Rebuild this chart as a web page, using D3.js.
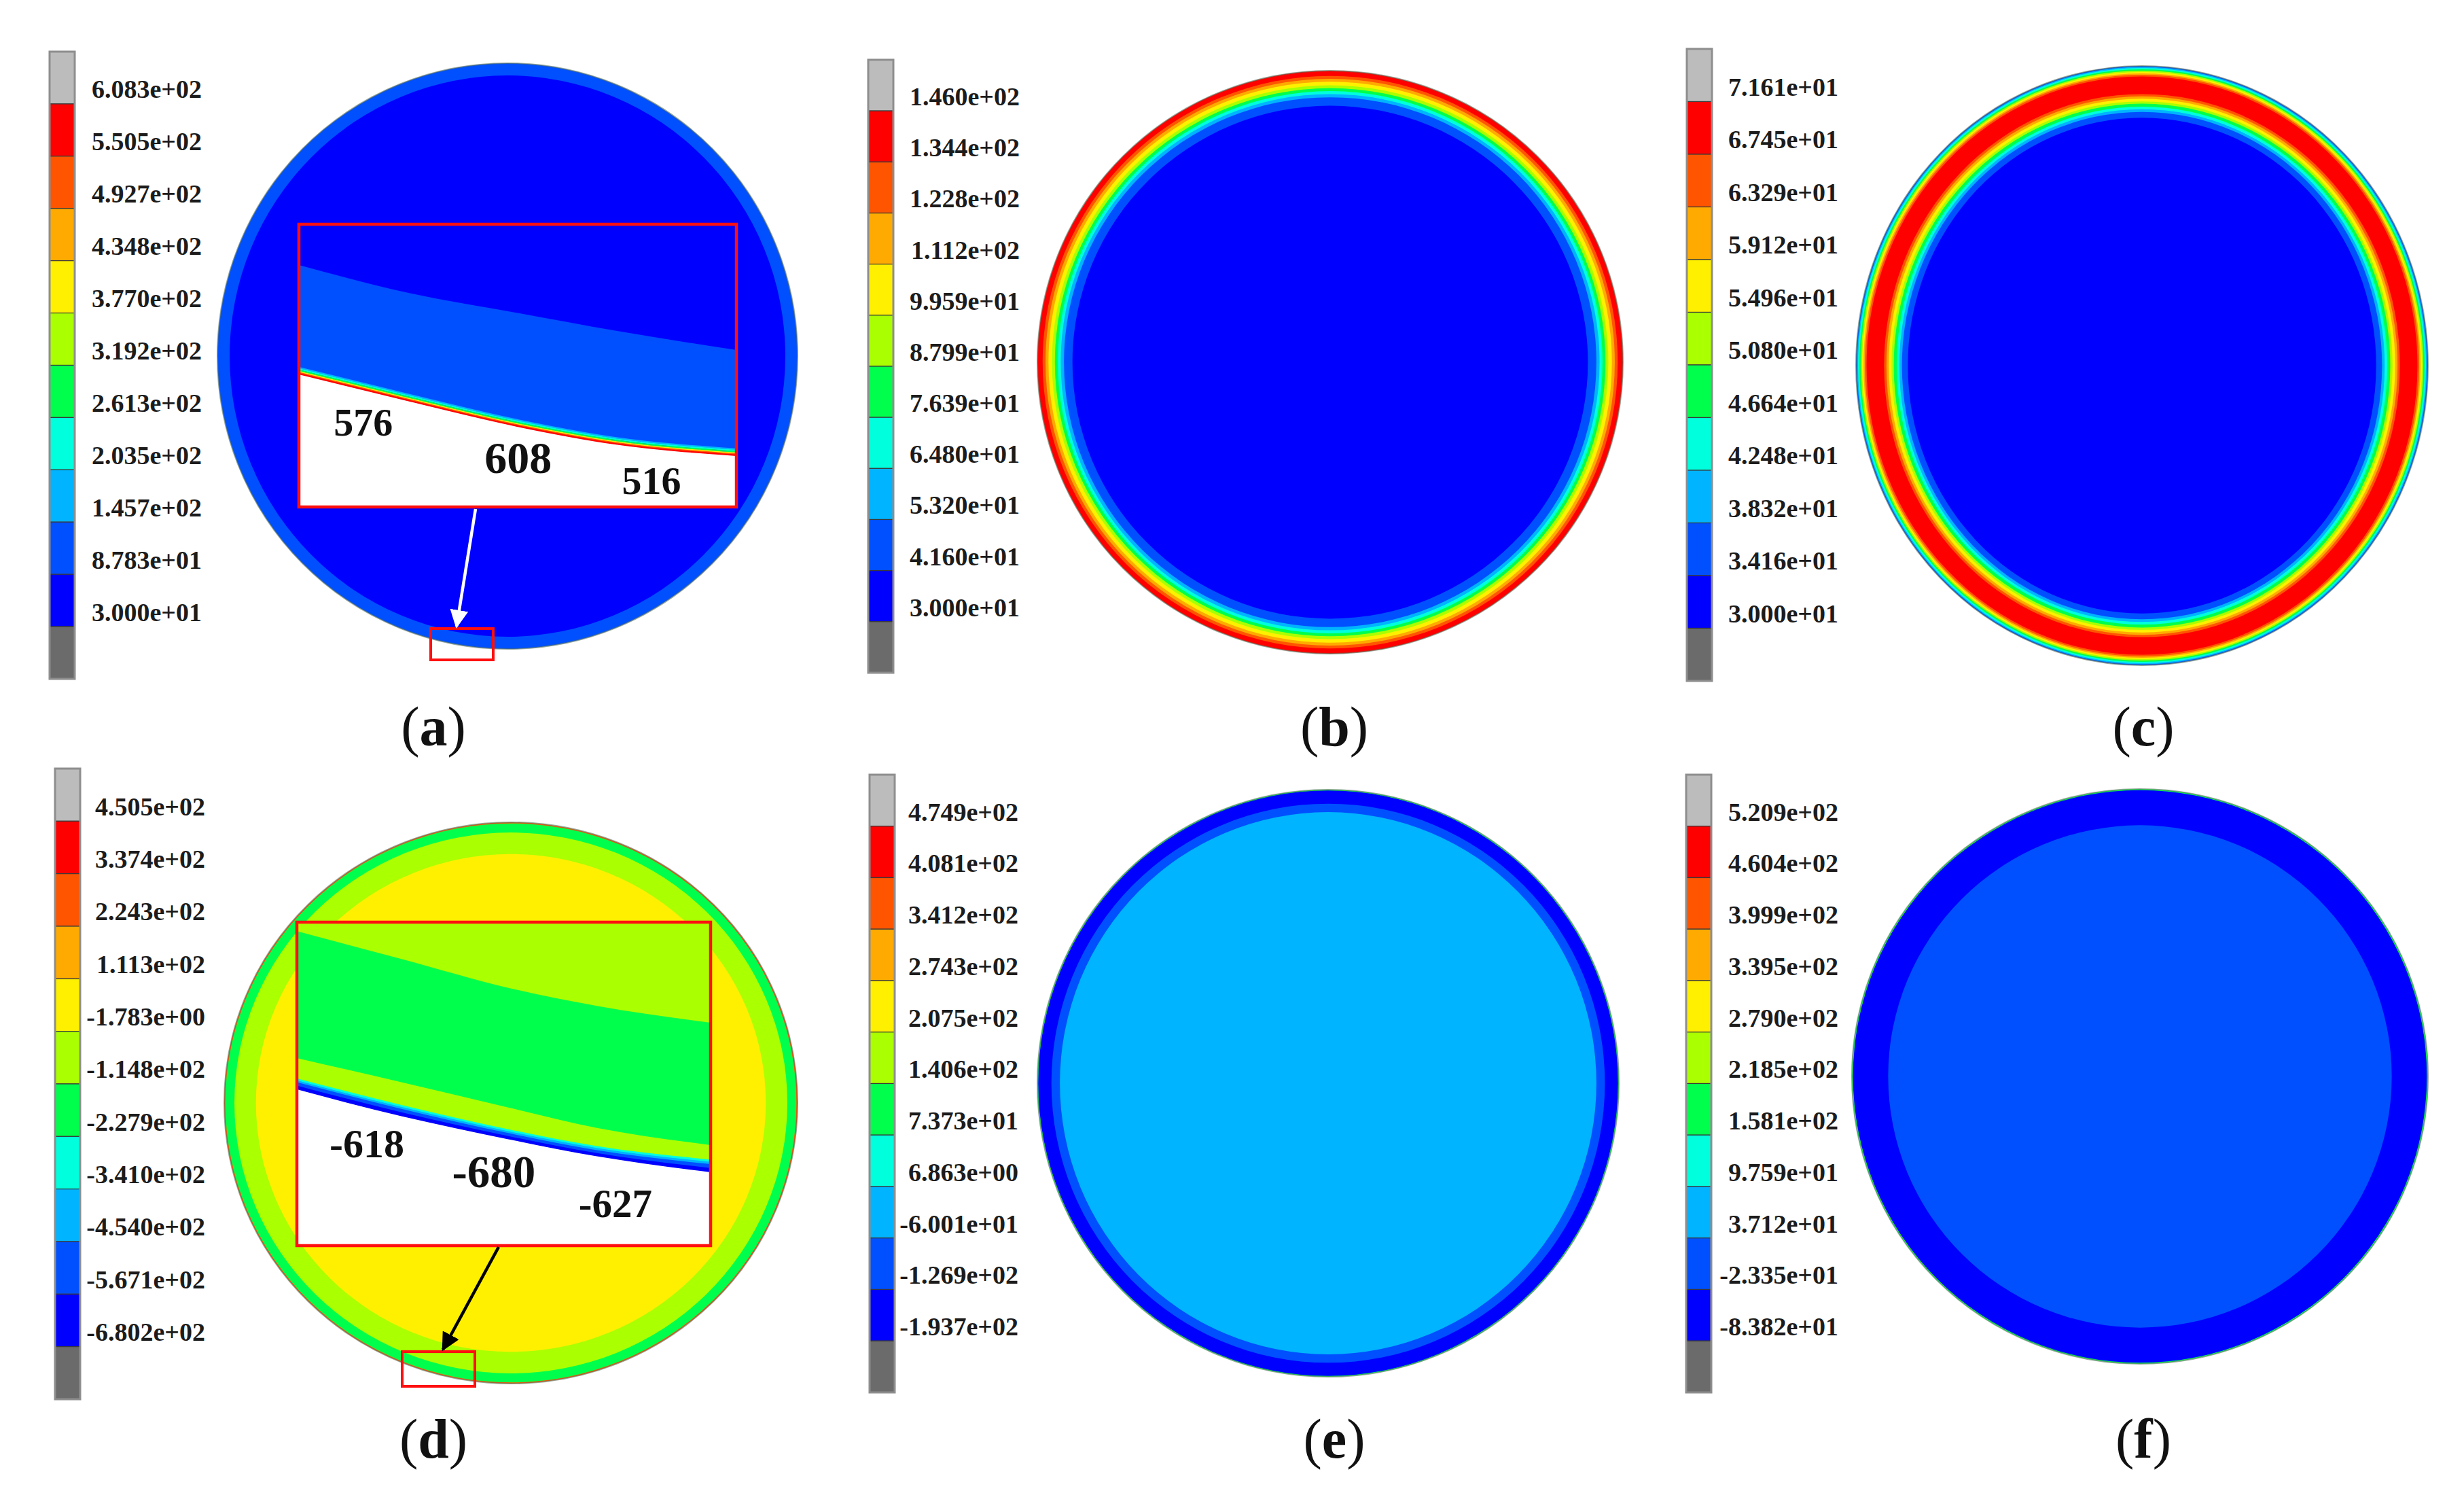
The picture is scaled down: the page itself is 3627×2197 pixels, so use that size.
<!DOCTYPE html>
<html>
<head>
<meta charset="utf-8">
<script src="https://cdn.jsdelivr.net/npm/d3@7"></script>
<style>
  body { margin: 0; background: #fff; }
  text { font-family: "Liberation Serif", "Times New Roman", serif; }
</style>
</head>
<body>
<svg id="fig" width="3627" height="2197"></svg>
<script>
// legend colours, top (max) to bottom (min)
const legendColors = ["#bcbcbc", "#ff0000", "#ff5500", "#ffaa00", "#fff000", "#aaff00",
  "#00ff4c", "#00ffdd", "#00b4ff", "#0050ff", "#0000ff", "#6b6b6b"];

const labelsA = ["6.083e+02", "5.505e+02", "4.927e+02", "4.348e+02", "3.770e+02", "3.192e+02",
  "2.613e+02", "2.035e+02", "1.457e+02", "8.783e+01", "3.000e+01"];
const labelsB = ["1.460e+02", "1.344e+02", "1.228e+02", "1.112e+02", "9.959e+01", "8.799e+01",
  "7.639e+01", "6.480e+01", "5.320e+01", "4.160e+01", "3.000e+01"];
const labelsC = ["7.161e+01", "6.745e+01", "6.329e+01", "5.912e+01", "5.496e+01", "5.080e+01",
  "4.664e+01", "4.248e+01", "3.832e+01", "3.416e+01", "3.000e+01"];
const labelsD = ["4.505e+02", "3.374e+02", "2.243e+02", "1.113e+02", "-1.783e+00", "-1.148e+02",
  "-2.279e+02", "-3.410e+02", "-4.540e+02", "-5.671e+02", "-6.802e+02"];
const labelsE = ["4.749e+02", "4.081e+02", "3.412e+02", "2.743e+02", "2.075e+02", "1.406e+02",
  "7.373e+01", "6.863e+00", "-6.001e+01", "-1.269e+02", "-1.937e+02"];
const labelsF = ["5.209e+02", "4.604e+02", "3.999e+02", "3.395e+02", "2.790e+02", "2.185e+02",
  "1.581e+02", "9.759e+01", "3.712e+01", "-2.335e+01", "-8.382e+01"];

// contour bands: [legend colour index, depth from surface where band starts (fraction of radius)]
const ringsA = [[9, 0], [10, 0.042]];
const ringsB = [[1, 0], [2, 0.018], [3, 0.028], [4, 0.038], [5, 0.05], [6, 0.06],
  [7, 0.07], [8, 0.08], [9, 0.091], [10, 0.12]];
const ringsC = [[9, 0], [8, 0.0035], [7, 0.007], [6, 0.0116], [5, 0.0163], [4, 0.0209],
  [3, 0.0256], [2, 0.0302], [1, 0.036], [2, 0.096], [3, 0.104], [4, 0.112], [5, 0.121],
  [6, 0.129], [7, 0.139], [8, 0.148], [9, 0.157], [10, 0.177]];
const ringsD = [[2, 0], [6, 0.004], [5, 0.036], [4, 0.112]];
const ringsE = [[6, 0], [10, 0.003], [9, 0.048], [8, 0.077]];
const ringsF = [[6, 0], [10, 0.004], [9, 0.126]];

// zoomed insets: boundary curves in inset coordinates (0..1)
const insetTopA = [[0, 0.144], [0.254, 0.244], [0.497, 0.313], [0.725, 0.377], [1, 0.445]];
const insetEdgeA = [[0, 0.529], [0.254, 0.625], [0.497, 0.713], [0.725, 0.777], [1, 0.817]];
const insetValuesA = [["576", 0.147, 0.70, 58], ["608", 0.501, 0.826, 66], ["516", 0.806, 0.908, 58]];

const insetGreenD = [[0, 0.028], [0.256, 0.115], [0.511, 0.203], [0.725, 0.259], [1, 0.311]];
const insetLowYgD = [[0, 0.42], [0.256, 0.496], [0.511, 0.573], [0.725, 0.636], [1, 0.689]];
const insetCyanD = [[0, 0.483], [0.256, 0.566], [0.511, 0.64], [0.725, 0.692], [1, 0.734]];
const insetLightD = [[0, 0.489], [0.256, 0.572], [0.511, 0.646], [0.725, 0.698], [1, 0.741]];
const insetBlueD = [[0, 0.495], [0.256, 0.578], [0.511, 0.652], [0.725, 0.705], [1, 0.748]];
const insetDarkD = [[0, 0.505], [0.256, 0.589], [0.511, 0.661], [0.725, 0.714], [1, 0.76]];
const insetEdgeD = [[0, 0.517], [0.256, 0.601], [0.511, 0.671], [0.725, 0.724], [1, 0.773]];
const insetValuesD = [["-618", 0.169, 0.684, 60], ["-680", 0.476, 0.771, 67], ["-627", 0.77, 0.87, 59]];

const panels = [
  { id: "a", labels: labelsA, rings: ringsA, bar: [73, 76, 999], labelEnd: 297,
    shape: [747, 524, 427, 431], caption: [638, 1075] },
  { id: "b", labels: labelsB, rings: ringsB, bar: [1278, 88, 990], labelEnd: 1501,
    shape: [1958, 533, 431, 429], caption: [1964, 1075] },
  { id: "c", labels: labelsC, rings: ringsC, bar: [2483, 72, 1002], labelEnd: 2706,
    shape: [3153, 538, 421, 441], caption: [3155, 1075] },
  { id: "d", labels: labelsD, rings: ringsD, bar: [81, 1131, 2059], labelEnd: 302,
    shape: [752, 1623, 422, 413], caption: [638, 2123] },
  { id: "e", labels: labelsE, rings: ringsE, bar: [1280, 1140, 2049], labelEnd: 1499,
    shape: [1955, 1594, 428, 432], caption: [1964, 2123] },
  { id: "f", labels: labelsF, rings: ringsF, bar: [2482, 1140, 2049], labelEnd: 2706,
    shape: [3150, 1584, 424, 423], caption: [3155, 2123] },
];

const svg = d3.select("#fig");
const defs = svg.append("defs");

panels.forEach((p) => {
  const g = svg.append("g").attr("class", "panel panel-" + p.id);

  // contour disc
  const [cx, cy, rx, ry] = p.shape;
  const depth = d3.scaleLinear().domain([0, 1]).range([0, (rx + ry) / 2]);
  g.selectAll(".band")
    .data(p.rings)
    .join("ellipse")
    .attr("class", "band")
    .attr("cx", cx)
    .attr("cy", cy)
    .attr("rx", (d) => rx - depth(d[1]))
    .attr("ry", (d) => ry - depth(d[1]))
    .attr("fill", (d) => legendColors[d[0]]);
  g.append("ellipse")
    .attr("cx", cx).attr("cy", cy).attr("rx", rx).attr("ry", ry)
    .attr("fill", "none")
    .attr("stroke", "#56705a")
    .attr("stroke-opacity", 0.6)
    .attr("stroke-width", 2);

  // colour legend
  const [bx, top, bottom] = p.bar;
  const bw = 37;
  const y = d3.scaleLinear().domain([0, legendColors.length]).range([top, bottom]);
  g.selectAll(".seg")
    .data(legendColors)
    .join("rect")
    .attr("class", "seg")
    .attr("x", bx)
    .attr("y", (d, i) => y(i))
    .attr("width", bw)
    .attr("height", (d, i) => y(i + 1) - y(i))
    .attr("fill", (d) => d)
    .attr("stroke", "#3a3a3a")
    .attr("stroke-width", 1.2);
  g.append("rect")
    .attr("x", bx).attr("y", top).attr("width", bw).attr("height", bottom - top)
    .attr("fill", "none").attr("stroke", "#8e8e8e").attr("stroke-width", 3);

  g.selectAll(".lbl")
    .data(p.labels)
    .join("text")
    .attr("class", "lbl")
    .attr("x", p.labelEnd)
    .attr("y", (d, i) => y(i + 0.72) + 13)
    .attr("text-anchor", "end")
    .attr("font-size", 38)
    .attr("font-weight", "bold")
    .attr("fill", "#1c1c1c")
    .text((d) => d);

  // caption (a)...(f)
  const cap = g.append("text")
    .attr("x", p.caption[0])
    .attr("y", p.caption[1] + 22)
    .attr("text-anchor", "middle")
    .attr("font-size", 82)
    .attr("fill", "#111");
  cap.append("tspan").text("(");
  cap.append("tspan").attr("font-weight", "bold").text(p.id);
  cap.append("tspan").text(")");
});

// arrow markers
["white", "black"].forEach((c) => {
  defs.append("marker")
    .attr("id", "head-" + c)
    .attr("viewBox", "0 0 10 10")
    .attr("refX", 9).attr("refY", 5)
    .attr("markerWidth", 6).attr("markerHeight", 6)
    .attr("markerUnits", "strokeWidth")
    .attr("orient", "auto")
    .append("path")
    .attr("d", "M0,0 L10,5 L0,10 z")
    .attr("fill", c);
});

function drawInset(box, layers, strokes, values, callout) {
  const [x0, y0, x1, y1] = box;
  const sx = d3.scaleLinear().domain([0, 1]).range([x0, x1]);
  const sy = d3.scaleLinear().domain([0, 1]).range([y0, y1]);
  const id = "clip-" + x0 + "-" + y0;
  defs.append("clipPath").attr("id", id)
    .append("rect").attr("x", x0).attr("y", y0).attr("width", x1 - x0).attr("height", y1 - y0);
  const g = svg.append("g").attr("clip-path", "url(#" + id + ")");
  const area = d3.area()
    .x((d) => sx(d[0]))
    .y0((d) => sy(d[1]))
    .y1(y1 + 10)
    .curve(d3.curveMonotoneX);
  const line = d3.line()
    .x((d) => sx(d[0]))
    .y((d) => sy(d[1]))
    .curve(d3.curveMonotoneX);

  layers.forEach(([fill, curve]) => {
    if (!curve) {
      g.append("rect").attr("x", x0).attr("y", y0)
        .attr("width", x1 - x0).attr("height", y1 - y0).attr("fill", fill);
    } else {
      g.append("path").attr("d", area(curve)).attr("fill", fill);
    }
  });
  strokes.forEach(([col, curve, dy]) => {
    g.append("path")
      .attr("d", line(curve))
      .attr("transform", "translate(0," + dy + ")")
      .attr("fill", "none")
      .attr("stroke", col)
      .attr("stroke-width", 2.2);
  });
  g.selectAll(".val")
    .data(values)
    .join("text")
    .attr("x", (d) => sx(d[1]))
    .attr("y", (d) => sy(d[2]) + d[3] * 0.34)
    .attr("text-anchor", "middle")
    .attr("font-size", (d) => d[3])
    .attr("font-weight", "bold")
    .attr("fill", "#111")
    .text((d) => d[0]);

  svg.append("rect")
    .attr("x", x0).attr("y", y0).attr("width", x1 - x0).attr("height", y1 - y0)
    .attr("fill", "none").attr("stroke", "#ff1010").attr("stroke-width", 4.5);

  // small source box and arrow
  const [sb, from, to, col] = callout;
  svg.append("rect")
    .attr("x", sb[0]).attr("y", sb[1]).attr("width", sb[2] - sb[0]).attr("height", sb[3] - sb[1])
    .attr("fill", "none").attr("stroke", "#ff1010").attr("stroke-width", 4);
  svg.append("line")
    .attr("x1", from[0]).attr("y1", from[1]).attr("x2", to[0]).attr("y2", to[1])
    .attr("stroke", col).attr("stroke-width", 4.5)
    .attr("marker-end", "url(#head-" + col + ")");
}

drawInset([440, 330, 1084, 746],
  [[legendColors[10], null], [legendColors[9], insetTopA], ["#ffffff", insetEdgeA]],
  [[legendColors[8], insetEdgeA, -9], [legendColors[7], insetEdgeA, -7], [legendColors[6], insetEdgeA, -5],
   [legendColors[4], insetEdgeA, -3], [legendColors[2], insetEdgeA, -1.5], [legendColors[1], insetEdgeA, 0]],
  insetValuesA,
  [[634, 925, 726, 971], [700, 749], [672, 922], "white"]);

drawInset([437, 1357, 1046, 1833],
  [[legendColors[5], null], [legendColors[6], insetGreenD], [legendColors[5], insetLowYgD],
   [legendColors[7], insetCyanD], [legendColors[8], insetLightD], [legendColors[9], insetBlueD],
   [legendColors[10], insetDarkD], ["#ffffff", insetEdgeD]],
  [],
  insetValuesD,
  [[592, 1989, 699, 2040], [734, 1835], [652, 1986], "black"]);
</script>
</body>
</html>
